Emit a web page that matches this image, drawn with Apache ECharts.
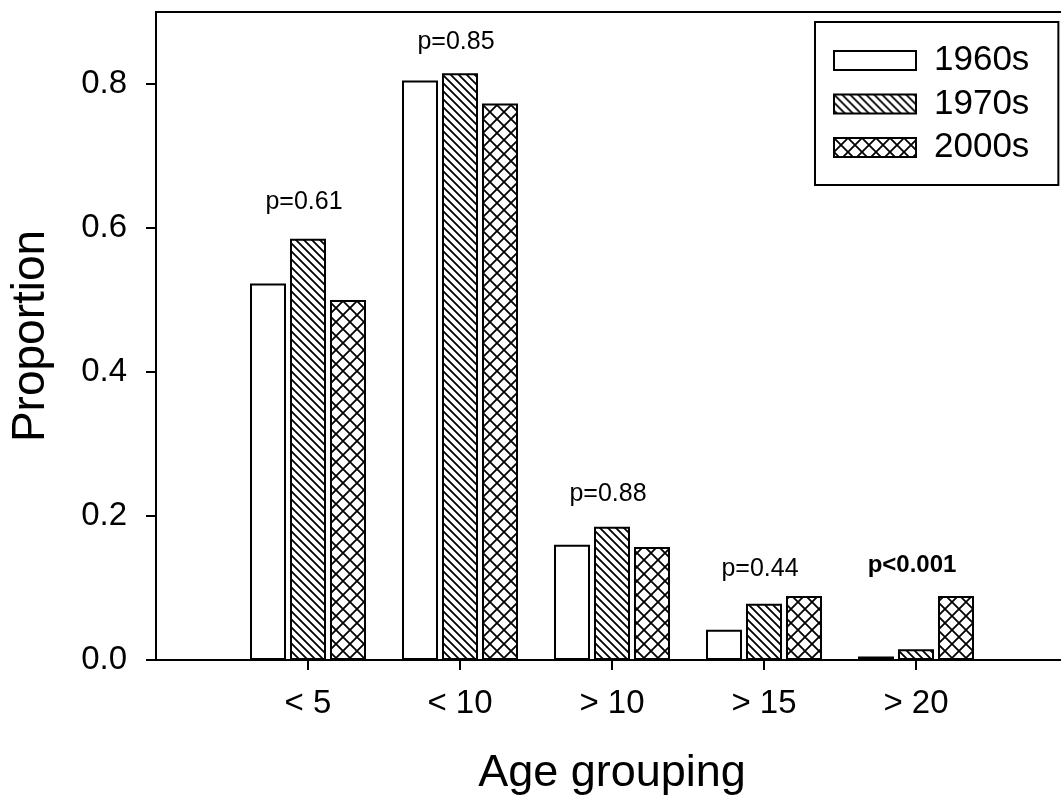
<!DOCTYPE html>
<html>
<head>
<meta charset="utf-8">
<script src="https://cdn.jsdelivr.net/npm/echarts@6/dist/echarts.min.js"></script>
<style>
html,body{margin:0;padding:0;background:#fff;}
#chart{width:1061px;height:802px;}
</style>
</head>
<body>
<div id="chart"></div>
<script>
// ---- data ----
const categories = ['< 5', '< 10', '> 10', '> 15', '> 20'];
const seriesNames = ['1960s', '1970s', '2000s'];
const values1960s = [0.523, 0.805, 0.160, 0.042, 0.005];
const values1970s = [0.585, 0.815, 0.185, 0.078, 0.015];
const values2000s = [0.500, 0.773, 0.157, 0.089, 0.089];
const pLabels = ['p=0.61', 'p=0.85', 'p=0.88', 'p=0.44', 'p<0.001'];
const pLabelY = [0.636, 0.858, 0.230, 0.126, 0.132];
const pBold = [false, false, false, false, true];
const yTicks = [0, 0.2, 0.4, 0.6, 0.8];

// ---- patterns ----
function hatchPattern() {
  const s = 8;
  const c = document.createElement('canvas');
  c.width = s; c.height = s;
  const g = c.getContext('2d');
  g.fillStyle = '#fff'; g.fillRect(0, 0, s, s);
  g.strokeStyle = '#000'; g.lineWidth = 1.8;
  g.beginPath();
  g.moveTo(-2, -2); g.lineTo(s + 2, s + 2);
  g.moveTo(-2 - s, -2); g.lineTo(2, s + 2);
  g.moveTo(s - 2, -2); g.lineTo(2 * s + 2, s + 2);
  g.stroke();
  return c;
}
function crossPattern() {
  const s = 14;
  const c = document.createElement('canvas');
  c.width = s; c.height = s;
  const g = c.getContext('2d');
  g.fillStyle = '#fff'; g.fillRect(0, 0, s, s);
  g.strokeStyle = '#000'; g.lineWidth = 1.8;
  g.beginPath();
  g.moveTo(-2, -2); g.lineTo(s + 2, s + 2);
  g.moveTo(s + 2, -2); g.lineTo(-2, s + 2);
  g.stroke();
  return c;
}

const font = '"Liberation Sans", Arial, sans-serif';
const paddedCats = [''].concat(categories, ['']);
const pad = arr => [null].concat(arr, [null]);

const fills = ['#ffffff', { image: hatchPattern(), repeat: 'repeat' }, { image: crossPattern(), repeat: 'repeat' }];
const allValues = [values1960s, values1970s, values2000s];

const barSeries = seriesNames.map((name, i) => ({
  name: name,
  type: 'bar',
  data: pad(allValues[i]),
  barWidth: 36,
  barGap: '11.1%',
  itemStyle: { color: fills[i], borderColor: '#000', borderWidth: 2 },
  emphasis: { disabled: true },
  animation: false
}));

const labelSeries = {
  type: 'scatter',
  symbolSize: 0,
  silent: true,
  animation: false,
  itemStyle: { opacity: 1 },
  emphasis: { disabled: true },
  data: categories.map((c, i) => ({
    value: [c, pLabelY[i]],
    label: { fontWeight: pBold[i] ? 'bold' : 'normal', fontSize: pBold[i] ? 24 : 25 }
  })),
  label: {
    show: true,
    position: 'inside',
    offset: [-4, 0],
    fontFamily: font,
    fontSize: 25,
    color: '#000',
    opacity: 1,
    textBorderWidth: 0,
    formatter: p => pLabels[p.dataIndex]
  }
};

const chart = echarts.init(document.getElementById('chart'), null, { renderer: 'canvas' });
chart.setOption({
  backgroundColor: '#fff',
  animation: false,
  textStyle: { fontFamily: font },
  grid: {
    left: 156, top: 12, width: 912, height: 648,
    outerBoundsMode: 'none',
    containLabel: false,
    show: true, borderColor: '#000', borderWidth: 2, backgroundColor: 'transparent'
  },
  legend: {
    orient: 'vertical',
    left: 815, top: 22,
    data: seriesNames,
    itemWidth: 82, itemHeight: 19, itemGap: 8.5,
    padding: [21, 29, 20, 18],
    borderColor: '#000', borderWidth: 2,
    icon: 'rect',
    selectedMode: false,
    textStyle: { fontFamily: font, fontSize: 35, color: '#000', padding: [0, 0, 0, 13] }
  },
  xAxis: {
    type: 'category',
    data: paddedCats,
    boundaryGap: false,
    name: 'Age grouping',
    nameLocation: 'middle',
    nameGap: 91,
    nameTextStyle: { fontFamily: font, fontSize: 45, color: '#000' },
    axisLine: { lineStyle: { color: '#000', width: 2 } },
    axisTick: { show: true, length: 10, lineStyle: { color: '#000', width: 2 }, interval: (i, v) => v !== '' },
    axisLabel: { fontFamily: font, fontSize: 33, color: '#000', margin: 27, interval: 0 },
    splitLine: { show: false }
  },
  yAxis: {
    type: 'value',
    min: 0, max: 0.9,
    name: 'Proportion',
    nameLocation: 'middle',
    nameGap: 102,
    nameTextStyle: { fontFamily: font, fontSize: 46, color: '#000' },
    axisLine: { show: true, lineStyle: { color: '#000', width: 2 } },
    axisTick: { show: true, length: 10, lineStyle: { color: '#000', width: 2 }, customValues: yTicks },
    axisLabel: { fontFamily: font, fontSize: 33, color: '#000', margin: 29, customValues: yTicks, formatter: v => v.toFixed(1) },
    splitLine: { show: false }
  },
  series: barSeries.concat([labelSeries])
});
</script>
</body>
</html>
